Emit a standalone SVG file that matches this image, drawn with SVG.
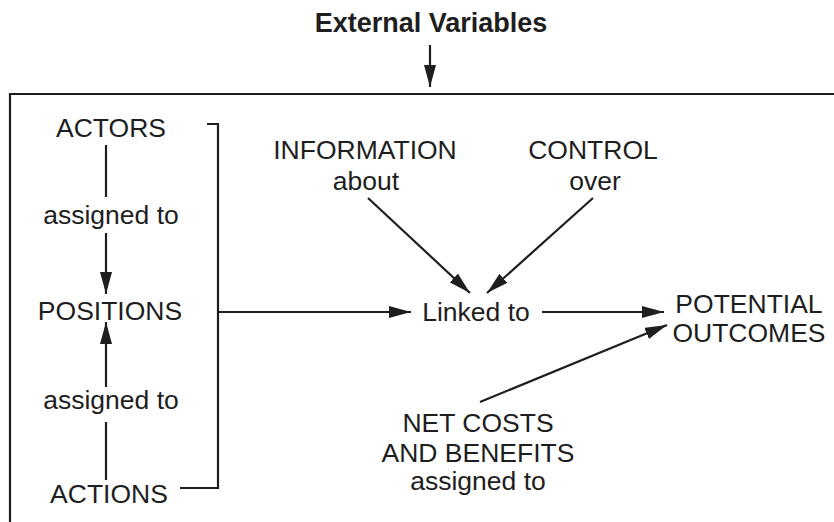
<svg xmlns="http://www.w3.org/2000/svg" width="834" height="522" viewBox="0 0 834 522">
  <style>
    .t { font-family: "Liberation Sans", Arial, sans-serif; font-size: 26.5px; fill: #1e1e1e; text-anchor: middle; }
    .b { font-weight: bold; font-size: 27px; }
    .ln { fill: none; stroke: #1e1e1e; stroke-width: 2.2; }
    .ar { marker-end: url(#ah); }
  </style>
  <defs>
    <marker id="ah" markerUnits="userSpaceOnUse" markerWidth="22" markerHeight="12" refX="22" refY="6" orient="auto">
      <path d="M0,0 L22,6 L0,12 z" fill="#1e1e1e"/>
    </marker>
  </defs>
  <rect width="834" height="522" fill="#ffffff"/>

  <g id="frame">
    <path class="ln" d="M10,522 V94 H834" stroke-width="2.5"/>
  </g>

  <g id="external-variables">
    <text class="t b" x="431" y="32">External Variables</text>
  </g>
  <g id="actors"><text class="t" x="111" y="137">ACTORS</text></g>
  <g id="assigned-1"><text class="t" x="111" y="224">assigned to</text></g>
  <g id="positions"><text class="t" x="110" y="320">POSITIONS</text></g>
  <g id="assigned-2"><text class="t" x="111" y="409">assigned to</text></g>
  <g id="actions"><text class="t" x="109" y="503">ACTIONS</text></g>
  <g id="information">
    <text class="t" x="365" y="159">INFORMATION</text>
    <text class="t" x="366" y="190">about</text>
  </g>
  <g id="control">
    <text class="t" x="593" y="159">CONTROL</text>
    <text class="t" x="595" y="190">over</text>
  </g>
  <g id="linked-to"><text class="t" x="476" y="321">Linked to</text></g>
  <g id="potential-outcomes">
    <text class="t" x="749" y="313">POTENTIAL</text>
    <text class="t" x="749" y="342">OUTCOMES</text>
  </g>
  <g id="net-costs">
    <text class="t" x="478" y="432">NET COSTS</text>
    <text class="t" x="478" y="462">AND BENEFITS</text>
    <text class="t" x="478" y="490">assigned to</text>
  </g>

  <g id="connectors">
    <path class="ln ar" d="M430,45 V87"/>
    <path class="ln" d="M106,145 V197"/>
    <path class="ln ar" d="M106,233 V294"/>
    <path class="ln" d="M106,480 V422"/>
    <path class="ln ar" d="M106,387 V322"/>
    <path class="ln" d="M207,124 H218 V488 H180"/>
    <path class="ln ar" d="M218,312 H411"/>
    <path class="ln ar" d="M542,312 H664"/>
    <path class="ln ar" d="M368,198 L470,293"/>
    <path class="ln ar" d="M593,198 L487,293"/>
    <path class="ln ar" d="M480,402 L667,325"/>
  </g>
</svg>
